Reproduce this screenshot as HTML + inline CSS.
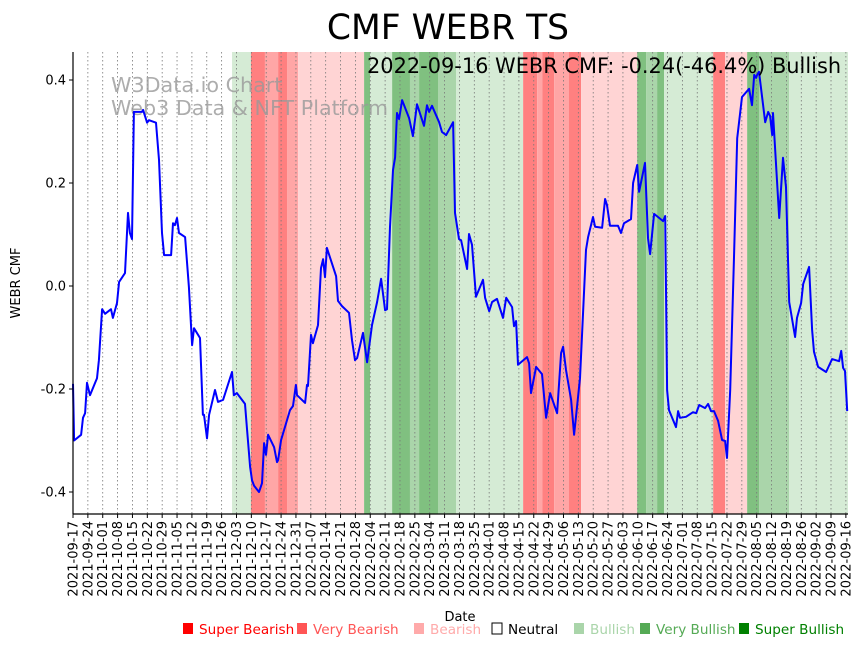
<!DOCTYPE html>
<html><head><meta charset="utf-8">
<style>
body{margin:0;background:#fff;}
svg{display:block;font-family:"DejaVu Sans","Liberation Sans",sans-serif;}
</style></head>
<body>
<svg id="chart" width="864" height="646" viewBox="0 0 864 646" xmlns="http://www.w3.org/2000/svg">
<rect width="864" height="646" fill="#fff"/>
<text x="448" y="39" font-size="34.5" text-anchor="middle">CMF WEBR TS</text>
<g id="bands"></g>
<g id="grid"></g>
<text x="111" y="92" font-size="20.7" fill="#999" fill-opacity="0.8">W3Data.io Chart</text>
<text x="111" y="115" font-size="20.7" fill="#999" fill-opacity="0.8">Web3 Data &amp; NFT Platform</text>
<g id="line"></g>
<text x="367" y="73" font-size="20.9">2022-09-16 WEBR CMF: -0.24(-46.4%) Bullish</text>
<g id="axes"></g>
<text transform="translate(20,283) rotate(-90)" font-size="13" text-anchor="middle">WEBR CMF</text>
<text x="460" y="621" font-size="13" text-anchor="middle">Date</text>
<g id="legend"></g>
</svg>
<script>
const days=[0,0.5,3.8,4.7,5.7,6.6,8.0,11.3,12.2,13.7,15.1,17.9,18.8,20.7,21.7,24.5,25.9,26.8,27.8,28.7,32.5,33.0,34.9,35.8,39.1,40.5,41.9,42.9,46.2,47.1,48.0,49.0,49.9,52.8,54.6,56.1,57.0,59.8,61.2,61.7,63.1,64.1,66.9,68.3,70.7,74.9,75.8,77.2,81.0,82.0,83.4,84.3,85.3,87.6,89.0,90.0,90.9,91.9,94.7,96.1,96.6,98.0,102.2,103.6,105.0,105.5,109.3,110.2,110.7,112.1,113.0,115.4,116.8,117.8,118.7,119.6,123.9,124.8,126.7,130.0,131.4,132.8,133.8,135.2,136.6,138.5,140.8,143.2,145.1,147.0,147.9,149.3,150.7,151.7,152.6,153.6,155.0,158.3,160.1,162.0,165.3,166.7,167.7,169.1,172.4,173.8,175.7,179.0,179.9,181.8,182.8,185.6,186.5,187.9,189.8,193.1,194.1,196.0,197.4,199.7,202.5,204.0,206.8,207.7,208.7,209.6,213.8,214.8,215.7,218.1,220.9,222.8,224.7,228.0,229.9,230.8,232.2,234.6,236.0,238.8,241.6,242.6,244.9,245.9,249.2,250.6,251.5,252.9,256.7,258.1,259.5,262.8,263.8,265.7,266.6,269.4,270.8,271.8,273.7,277.9,278.9,279.8,280.7,284.0,285.0,285.9,288.7,292.0,293.5,294.9,297.7,299.1,300.5,301.9,303.8,305.7,307.1,308.0,309.5,311.3,312.8,315.1,318.4,319.8,320.8,321.7,322.2,323.1,326.0,327.4,328.3,329.3,329.7,332.6,334.4,335.8,337.3,340.1,341.0,342.9,343.9,346.7,348.1,349.0,350.9,354.7,357.5,360.8,361.8,362.7,363.6,364.6];
const cmf=[-0.19,-0.30,-0.289,-0.256,-0.247,-0.188,-0.212,-0.179,-0.144,-0.045,-0.054,-0.045,-0.062,-0.033,0.008,0.025,0.142,0.103,0.091,0.338,0.338,0.342,0.317,0.322,0.317,0.245,0.103,0.060,0.060,0.122,0.118,0.132,0.103,0.095,-0.002,-0.115,-0.082,-0.101,-0.250,-0.250,-0.296,-0.250,-0.202,-0.225,-0.221,-0.167,-0.212,-0.208,-0.229,-0.280,-0.351,-0.377,-0.388,-0.400,-0.383,-0.305,-0.328,-0.289,-0.313,-0.342,-0.338,-0.299,-0.241,-0.233,-0.192,-0.212,-0.227,-0.192,-0.194,-0.095,-0.111,-0.076,0.035,0.052,0.017,0.074,0.019,-0.029,-0.039,-0.052,-0.105,-0.144,-0.140,-0.115,-0.091,-0.148,-0.076,-0.031,0.014,-0.047,-0.045,0.115,0.225,0.250,0.336,0.324,0.361,0.326,0.291,0.353,0.311,0.351,0.338,0.350,0.318,0.299,0.293,0.318,0.142,0.091,0.089,0.033,0.101,0.080,-0.021,0.012,-0.023,-0.049,-0.031,-0.025,-0.062,-0.023,-0.041,-0.078,-0.068,-0.153,-0.138,-0.150,-0.208,-0.157,-0.171,-0.256,-0.208,-0.247,-0.130,-0.118,-0.163,-0.221,-0.289,-0.179,0.070,0.095,0.134,0.115,0.113,0.169,0.157,0.117,0.117,0.103,0.122,0.130,0.200,0.235,0.183,0.239,0.093,0.062,0.140,0.126,0.136,-0.202,-0.241,-0.274,-0.243,-0.256,-0.254,-0.245,-0.247,-0.231,-0.237,-0.229,-0.243,-0.243,-0.262,-0.299,-0.301,-0.334,-0.202,0.056,0.287,0.367,0.383,0.351,0.410,0.404,0.410,0.416,0.318,0.338,0.330,0.293,0.336,0.132,0.249,0.192,-0.031,-0.099,-0.062,-0.033,0.004,0.037,-0.085,-0.128,-0.157,-0.167,-0.142,-0.146,-0.126,-0.159,-0.165,-0.243];
const bandStart=[74.9,83.8,90.4,96.6,100.8,106,137.1,139.9,150.3,158.7,163,171.9,180.4,212,218.6,221,226.6,233.6,239.3,265.7,269.9,275.1,278.4,301.5,307.1,317.5,323.1,337.3];
const bandEnd=[83.8,90.4,96.6,100.8,106,137.1,139.9,150.3,158.7,163,171.9,180.4,212,218.6,221,226.6,233.6,239.3,265.7,269.9,275.1,278.4,301.5,307.1,317.5,323.1,337.3,365];
const bandLevel=[1,-3,-2,-3,-2,-1,3,1,3,2,3,2,1,-3,-2,-3,-2,-3,-1,3,2,3,1,-3,-1,3,2,1];
const yTicks=[-0.4,-0.2,0.0,0.2,0.4];
const legendLabels=["Super Bearish","Very Bearish","Bearish","Neutral","Bullish","Very Bullish","Super Bullish"];

const NS="http://www.w3.org/2000/svg";
const X0=73,X1=848,Y0=52,Y1=514;
const xs=d=>X0+d*(X1-X0)/365;
const ys=v=>286-v*515;
const bandColor={"-3":"#ff8080","-2":"#ffa6a6","-1":"#ffd4d4","1":"#d5ebd5","2":"#aad5aa","3":"#80c080"};
function mk(tag,attrs,parent){const e=document.createElementNS(NS,tag);for(const k in attrs)e.setAttribute(k,attrs[k]);parent.appendChild(e);return e;}

const gb=document.getElementById('bands');
bandStart.forEach((s,i)=>{
  const r=mk('rect',{x:xs(s),y:Y0,width:xs(bandEnd[i])-xs(s),height:Y1-Y0,fill:bandColor[bandLevel[i]]},gb);
  
  
});

const gg=document.getElementById('grid'),ga=document.getElementById('axes');
const start=new Date(Date.UTC(2021,8,17));
for(let d=0;d<=364;d+=7){
  const x=xs(d);
  mk('line',{x1:x,x2:x,y1:Y0,y2:Y1,stroke:'#777','stroke-width':0.8,'stroke-dasharray':'1.5,2.5'},gg);
  mk('line',{x1:x,x2:x,y1:Y1,y2:Y1+4,stroke:'#000','stroke-width':1},ga);
  const dt=new Date(start.getTime()+d*86400000);
  const lab=dt.toISOString().slice(0,10);
  const t=mk('text',{transform:`translate(${x+4.5},${Y1+7}) rotate(-90)`,'font-size':13,'text-anchor':'end'},ga);
  t.textContent=lab;
  
  
}
yTicks.forEach(v=>{
  const y=ys(v);
  mk('line',{x1:X0-4,x2:X0,y1:y,y2:y,stroke:'#000'},ga);
  const t=mk('text',{x:X0-7,y:y+4.5,'font-size':13,'text-anchor':'end'},ga);
  t.textContent=v.toFixed(1);
  
  
});
mk('line',{x1:X0,x2:X0,y1:Y0,y2:Y1,stroke:'#000','stroke-width':1.2},ga);
mk('line',{x1:X0,x2:X1,y1:Y1,y2:Y1,stroke:'#000','stroke-width':1.2},ga);

const pts=days.map((d,i)=>xs(d).toFixed(1)+','+ys(cmf[i]).toFixed(1)).join(' ');
const pl=mk('polyline',{points:pts,fill:'none',stroke:'#0000ff','stroke-width':2,'stroke-linejoin':'round'},document.getElementById('line'));



const gl=document.getElementById('legend');
const legX=[182,296,413,491,573,639,738];
const legCol=["#ff0000","#ff5555","#ffaaaa","#fff","#aad5aa","#55aa55","#008000"];
const legTxt=["#ff0000","#ff5555","#ffaaaa","#000","#aad5aa","#55aa55","#008000"];
legendLabels.forEach((l,i)=>{
  const r=mk('rect',{x:legX[i]+1,y:623,width:10,height:11,fill:legCol[i],stroke:i==3?'#000':'none'},gl);
  
  
  const t=mk('text',{x:legX[i]+17,y:634,'font-size':13.6,fill:legTxt[i]},gl);
  t.textContent=l;
  
  
});
</script>
</body></html>
